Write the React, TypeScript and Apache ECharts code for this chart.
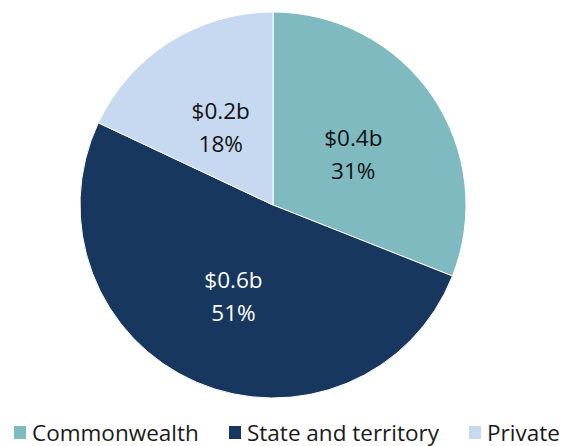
import React, { useEffect, useRef } from "react";
import * as echarts from "echarts";

const categories = ["Commonwealth", "State and territory", "Private"];
const shares = [31, 51, 18];
const amounts = ["$0.4b", "$0.6b", "$0.2b"];
const colors = ["#7FBAC0", "#17375E", "#C6D9F0"];
const labelColors = ["#111111", "#FFFFFF", "#111111"];
const labelOffsets = [[-2, 5], [0, 0], [1, 6]];
const legendLefts = [7, 222, 462];

export default function App() {
  const ref = useRef<HTMLDivElement>(null);
  useEffect(() => {
    const chart = echarts.init(ref.current!, null, { renderer: "svg" });
    const font = "'Open Sans', sans-serif";
    chart.setOption({
      animation: false,
      legend: categories.map((c, i) => ({
        left: legendLefts[i],
        top: 416,
        itemWidth: 14,
        itemHeight: 15,
        itemGap: 7,
        icon: "rect",
        textStyle: { fontSize: 22.5, color: "#1a1a1a", fontFamily: font, padding: [0, 0, 0, 0] },
        data: [c],
      })),
      series: [
        {
          type: "pie",
          center: [273, 205],
          radius: [0, 193],
          startAngle: 90,
          clockwise: true,
          itemStyle: { borderColor: "#ffffff", borderWidth: 1 },
          label: {
            position: "inside",
            fontSize: 22.5,
            fontFamily: font,
            lineHeight: 33,
            formatter: (p: any) => `${amounts[p.dataIndex]}\n${p.value}%`,
          },
          labelLine: { show: false },
          data: categories.map((c, i) => ({
            name: c,
            value: shares[i],
            itemStyle: { color: colors[i] },
            label: { color: labelColors[i], offset: labelOffsets[i] },
          })),
        },
      ],
    });
    return () => chart.dispose();
  }, []);
  return <div ref={ref} style={{ width: 563, height: 446, position: "absolute", left: 0, top: 0 }} />;
}
